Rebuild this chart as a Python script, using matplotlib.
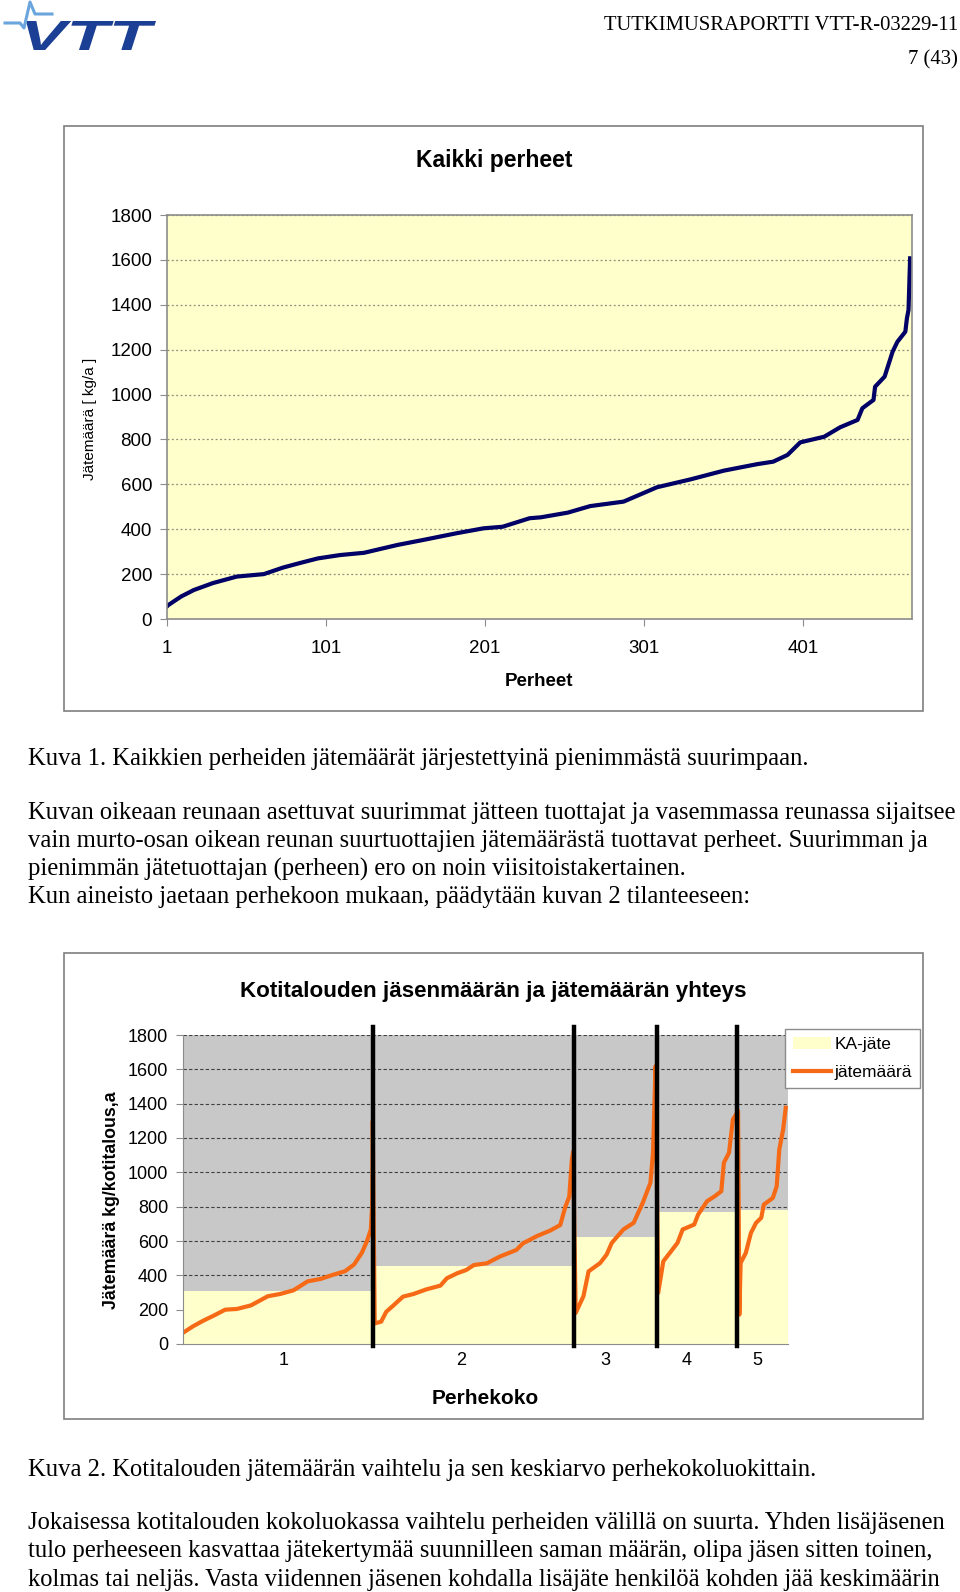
import numpy as np
import matplotlib
matplotlib.use('Agg')
import matplotlib.pyplot as plt
from matplotlib.patches import Rectangle, PathPatch, Patch
from matplotlib.lines import Line2D
from matplotlib.textpath import TextPath
from matplotlib.font_manager import FontProperties
from matplotlib.transforms import Affine2D

W, H = 960, 1592

# Kuva 1: all families sorted by waste (family index, kg/a)
fam_idx = [1, 2, 10, 18, 30, 45, 62, 74, 85, 96, 110, 125, 146, 162, 183, 200, 212,
           229, 236, 253, 267, 288, 309, 330, 351, 372, 382, 391, 399, 414, 424, 435,
           438, 445, 446, 452, 457, 460, 465, 466, 467, 468]
fam_waste = [55, 62, 100, 129, 160, 189, 200, 229, 250, 270, 285, 295, 330, 352, 382, 404, 411,
             449, 453, 474, 503, 523, 587, 622, 661, 690, 701, 731, 787, 812, 854, 887,
             939, 976, 1035, 1080, 1191, 1235, 1280, 1340, 1377, 1607]
x_ticks1 = [1, 101, 201, 301, 401]

# Kuva 2: families grouped by household size
group_sizes = [148, 156, 64, 62, 40]
group_labels = ['1', '2', '3', '4', '5']
label_pos = [78, 216, 328, 391, 446]
ka_jate = [307, 453, 626, 770, 783]
hh_x = [0, 8, 16, 24, 33, 42, 53, 66, 76, 86, 97, 107, 117, 126, 133, 139, 143, 146, 147, 147.5,
        149, 154, 158, 163, 171, 179, 189, 200, 205, 213, 220, 226, 236, 246, 259, 264, 275,
        285, 293, 297, 300, 302, 303,
        305, 311, 315, 324, 329, 333, 342, 350, 357, 363, 365, 366, 367,
        369, 373, 379, 384, 388, 397, 400, 407, 413, 418, 420, 424, 427, 431,
        432, 433, 437, 441, 445, 449, 451, 458, 461, 463, 466, 468]
hh_waste = [64, 103, 136, 165, 200, 204, 225, 278, 292, 313, 365, 379, 404, 424, 463, 531, 599, 667, 803, 1300,
            120, 130, 188, 221, 276, 291, 318, 340, 383, 412, 431, 460, 470, 509, 548, 586, 629,
            660, 693, 800, 858, 1072, 1120,
            181, 278, 423, 472, 521, 589, 667, 706, 822, 939, 1114, 1367, 1619,
            297, 482, 540, 589, 667, 696, 754, 832, 861, 890, 1056, 1114, 1308, 1357,
            171, 472, 530, 647, 706, 735, 812, 851, 919, 1133, 1250, 1376]

para1 = ["Kuvan oikeaan reunaan asettuvat suurimmat jätteen tuottajat ja vasemmassa reunassa sijaitsee",
         "vain murto-osan oikean reunan suurtuottajien jätemäärästä tuottavat perheet. Suurimman ja",
         "pienimmän jätetuottajan (perheen) ero on noin viisitoistakertainen.",
         "Kun aineisto jaetaan perhekoon mukaan, päädytään kuvan 2 tilanteeseen:"]
para2 = ["Jokaisessa kotitalouden kokoluokassa vaihtelu perheiden välillä on suurta. Yhden lisäjäsenen",
         "tulo perheeseen kasvattaa jätekertymää suunnilleen saman määrän, olipa jäsen sitten toinen,",
         "kolmas tai neljäs. Vasta viidennen jäsenen kohdalla lisäjäte henkilöä kohden jää keskimäärin"]

plt.rcParams['font.family'] = ['Liberation Sans', 'DejaVu Sans']

fig = plt.figure(figsize=(W / 100, H / 100), dpi=100)
renderer = fig.canvas.get_renderer()


def fx(x):
    return x / W


def fy(y):
    # text is centred a bit high with va='center', push it down a few px
    return 1 - y / H


def ty(y):
    return fy(y + 3)


def fit_size(s, width, **kw):
    t = fig.text(0, 0, s, fontsize=10, **kw)
    w = t.get_window_extent(renderer).width
    t.remove()
    return 10 * width / w


serif = ['Liberation Serif', 'DejaVu Serif']

# header
fs_head = fit_size('TUTKIMUSRAPORTTI VTT-R-03229-11', 356, family=serif)
fig.text(fx(958), ty(22), 'TUTKIMUSRAPORTTI VTT-R-03229-11', family=serif, fontsize=fs_head,
         ha='right', va='center')
fig.text(fx(958), ty(57), '7 (43)', family=serif, fontsize=fs_head, ha='right', va='center')

# VTT logo
fig.add_artist(Line2D([fx(5), fx(20), fx(24), fx(30), fx(35), fx(52)],
                      [fy(23), fy(23), fy(28), fy(2), fy(14), fy(14)],
                      transform=fig.transFigure, color='#6aa6dd', lw=2.2))
tp = TextPath((0, 0), 'VTT', size=1, prop=FontProperties(family='Liberation Sans', weight='bold', style='italic'))
bb = tp.get_extents()
logo_tr = Affine2D().translate(-bb.x0, -bb.y0).scale(130 / bb.width, 29 / bb.height).translate(26, H - 50)
fig.add_artist(PathPatch(tp, transform=logo_tr, facecolor='#1b3f94', edgecolor='none'))

# ---------- Kuva 1 ----------
fig.add_artist(Rectangle((fx(64), fy(711)), (923 - 64) / W, (711 - 126) / H, transform=fig.transFigure,
                         fill=False, edgecolor='#7f7f7f', lw=1.2))
ax1 = fig.add_axes([fx(166.7), fy(619), (911.7 - 166.7) / W, (619 - 215) / H])
ax1.set_facecolor('#ffffcc')
ax1.plot(fam_idx, fam_waste, color='#000066', lw=3, solid_joinstyle='round')
ax1.set_xlim(1, 469)
ax1.set_ylim(0, 1800)
ax1.set_yticks(np.arange(0, 1801, 200))
ax1.set_xticks(x_ticks1)
ax1.yaxis.grid(True, linestyle=(0, (1.5, 2)), color='#8c8c7a', lw=0.9)
ax1.set_axisbelow(True)
for sp in ax1.spines.values():
    sp.set_color('#8c8c8c')
    sp.set_linewidth(1.2)
ax1.tick_params(axis='y', direction='out', length=5, pad=5.5, labelsize=13.5, color='#8c8c8c')
ax1.tick_params(axis='x', direction='out', length=5, pad=10, labelsize=13.5, color='#8c8c8c')
fig.text(fx(494), ty(157), 'Kaikki perheet', fontsize=16.5, fontweight='bold', ha='center', va='center')
fig.text(fx(539), ty(679), 'Perheet', fontsize=13.5, fontweight='bold', ha='center', va='center')
fig.text(fx(90), fy(419), 'Jätemäärä [ kg/a ]', fontsize=11, rotation=90, ha='center', va='center')

# body text
fs_body = fit_size(para1[0], 926, family=serif)
fig.text(fx(28), ty(756), 'Kuva 1. Kaikkien perheiden jätemäärät järjestettyinä pienimmästä suurimpaan.',
         family=serif, fontsize=fs_body, va='center')
for i, line in enumerate(para1):
    fig.text(fx(28), ty(810 + i * 28), line, family=serif, fontsize=fs_body, va='center')

# ---------- Kuva 2 ----------
fig.add_artist(Rectangle((fx(64), fy(1419)), (923 - 64) / W, (1419 - 953) / H, transform=fig.transFigure,
                         fill=False, edgecolor='#7f7f7f', lw=1.2))
ax2 = fig.add_axes([fx(182.7), fy(1344), (788.3 - 182.7) / W, (1344 - 1035) / H])
ax2.set_facecolor('#c8c8c8')
bounds = np.concatenate([[0], np.cumsum(group_sizes)])
for i in range(len(group_sizes)):
    ax2.fill_between([bounds[i], bounds[i + 1]], 0, ka_jate[i], color='#ffffcc', lw=0, zorder=1)
ax2.plot(hh_x, hh_waste, color='#f66a15', lw=3, zorder=2)
for b in bounds[1:-1]:
    ax2.plot([b, b], [-14, 1848], color='black', lw=3.2, zorder=3, clip_on=False)
ax2.set_xlim(0, bounds[-1])
ax2.set_ylim(0, 1800)
ax2.set_yticks(np.arange(0, 1801, 200))
ax2.set_xticks(label_pos)
ax2.set_xticklabels(group_labels)
ax2.yaxis.grid(True, linestyle=(0, (3, 2)), color='#404040', lw=0.8, zorder=0.5)
ax2.set_axisbelow(True)
ax2.spines['top'].set_visible(False)
ax2.spines['right'].set_visible(False)
ax2.spines['left'].set_color('#8c8c8c')
ax2.spines['bottom'].set_color('#8c8c8c')
ax2.tick_params(axis='y', direction='out', length=5, pad=5.5, labelsize=13, color='#8c8c8c')
ax2.tick_params(axis='x', length=0, pad=6, labelsize=13)

fs_t2 = fit_size('Kotitalouden jäsenmäärän ja jätemäärän yhteys', 507, fontweight='bold')
fig.text(fx(493), ty(988), 'Kotitalouden jäsenmäärän ja jätemäärän yhteys', fontsize=fs_t2,
         fontweight='bold', ha='center', va='center')
fig.text(fx(485), ty(1395), 'Perhekoko', fontsize=15, fontweight='bold', ha='center', va='center')
fig.text(fx(112), fy(1200), 'Jätemäärä kg/kotitalous,a', fontsize=12.8, fontweight='bold', rotation=90,
         ha='center', va='center')

handles = [Patch(facecolor='#ffffcc', edgecolor='none', label='KA-jäte'),
           Line2D([], [], color='#f66a15', lw=3, label='jätemäärä')]
fig.legend(handles=handles, loc='upper left', bbox_to_anchor=(fx(785), fy(1029)), bbox_transform=fig.transFigure,
           borderaxespad=0, fancybox=False, edgecolor='#8c8c8c', fontsize=12.5, handlelength=2.2,
           handletextpad=0.2, borderpad=0.45, labelspacing=0.75, framealpha=1)

fig.text(fx(28), ty(1467), 'Kuva 2. Kotitalouden jätemäärän vaihtelu ja sen keskiarvo perhekokoluokittain.',
         family=serif, fontsize=fs_body, va='center')
for i, line in enumerate(para2):
    fig.text(fx(28), ty(1520 + i * 28.5), line, family=serif, fontsize=fs_body, va='center')

fig.savefig('out.png', dpi=100)
